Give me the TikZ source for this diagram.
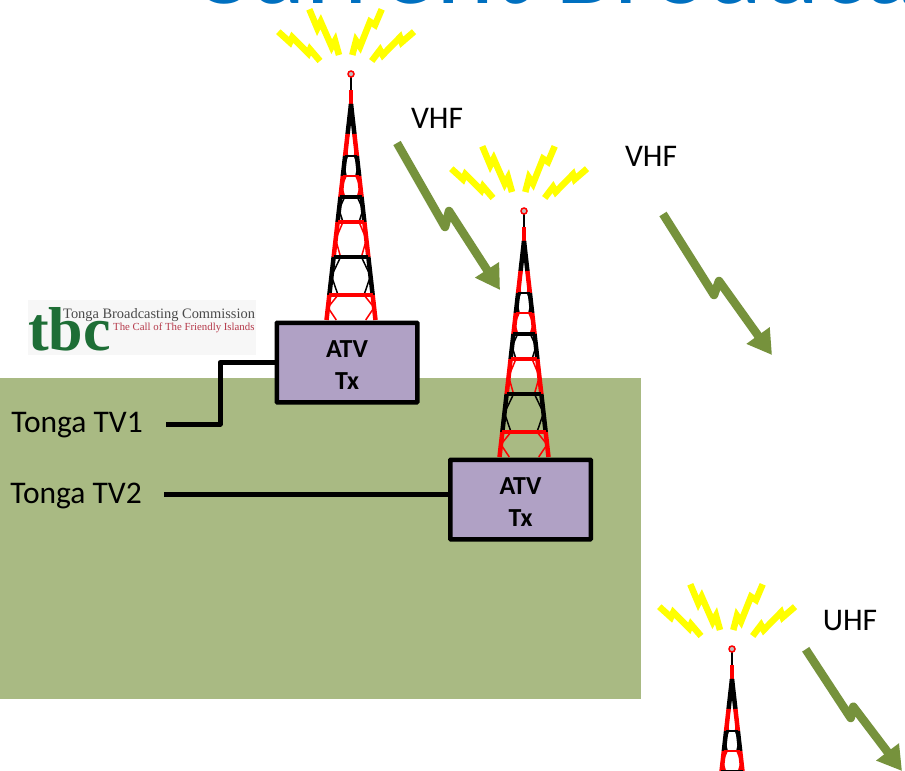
\documentclass[tikz,border=0pt]{standalone}
\usepackage{fontspec}
\setmainfont{Carlito}
\newfontfamily\logofont{Liberation Serif}
\usetikzlibrary{arrows.meta}
\definecolor{field}{HTML}{A9BA83}
\definecolor{bolt}{HTML}{76923C}
\definecolor{box}{HTML}{B0A1C5}
\definecolor{ray}{HTML}{FFFF00}
\definecolor{title}{HTML}{0070C0}
\definecolor{logo-green}{HTML}{1E6E36}
\definecolor{logo-red}{HTML}{B5394A}
\definecolor{logo-gray}{HTML}{4A4A4A}
\tikzset{
  label text/.style={font=\fontsize{31.5}{34}\selectfont, inner sep=0pt},
  tx box/.style={draw=black, line width=4.5pt, fill=box, rounded corners=0.5pt,
    minimum width=140.5pt, minimum height=79.5pt, align=center,
    font=\fontsize{26}{32}\selectfont\bfseries, inner sep=0pt},
  feed/.style={draw=black, line width=5pt, line join=round},
  radio bolt/.style={draw=bolt, line width=8.5pt, line join=round,
    -{Triangle[length=24pt,width=27pt]}},
  ray bolt/.style={draw=ray, line width=6.5pt},
  tower/.pic={
    % rays
    \draw[ray bolt] (-72.7,-42.3) -- (-61,-31.7) -- (-58.7,-36.7) -- (-42.7,-20.7) -- (-41,-24.7) -- (-31,-13);
    \draw[ray bolt] (-41.7,-64.7) -- (-33.7,-45.7) -- (-30.3,-52.3) -- (-19.3,-27.3) -- (-16,-33.3) -- (-12,-19);
    \draw[ray bolt] (30.7,-64.7) -- (24,-49) -- (19,-52.3) -- (9,-27.3) -- (5,-33.3) -- (1.3,-19);
    \draw[ray bolt] (63,-42.3) -- (50.7,-31.7) -- (49,-36.7) -- (31.7,-19) -- (29,-24) -- (20.7,-13);
    % mast top
    \draw[black, line width=1.5pt] (0,3) -- (0,16);
    \draw[red, line width=4.5pt] (0,16) -- (0,30);
    \draw[red, line width=1.5pt, fill=gray!50] (0,0) circle (3pt);
    % sections
    \foreach \ya/\yb/\hue in {30/60/black, 60/82/red, 82/102/black, 102/123/red,
        123/148/black, 148/183/red, 183/221/black, 221/246/red} {
      \pgfmathsetmacro{\wa}{(\ya-30)*0.1134}
      \pgfmathsetmacro{\wb}{(\yb-30)*0.1134}
      \pgfmathsetmacro{\wm}{(\wa+\wb)/2}
      \pgfmathsetmacro{\ym}{(\ya+\yb)/2}
      \draw[\hue, line width=1.5pt] (-0.6*\wa,\ya) -- (-\wm,\ym) -- (-0.6*\wb,\yb);
      \draw[\hue, line width=1.5pt] (0.6*\wa,\ya) -- (\wm,\ym) -- (0.6*\wb,\yb);
      \draw[\hue, line width=4.5pt] (-\wa,\ya) -- (-\wb,\yb);
      \draw[\hue, line width=4.5pt] (\wa,\ya) -- (\wb,\yb);
    }
    % rungs
    \foreach \yr/\hue/\lw in {82/black/2.5, 102/red/2, 123/black/3.5, 148/red/3.5,
        183/black/3.5, 221/red/3.5} {
      \pgfmathsetmacro{\wr}{(\yr-30)*0.1134}
      \draw[\hue, line width=\lw pt] (-\wr,\yr) -- (\wr,\yr);
    }
  },
}
\begin{document}
\begin{tikzpicture}[x=1pt, y=-1pt]
\clip (0,0) rectangle (905,771);
\fill[white] (0,0) rectangle (905,771);
\node[anchor=base west, inner sep=0pt, text=title, font=\fontsize{110}{120}\selectfont] (heading) at (190,4) {Current Broadcast};
\fill[field] (0,378) rectangle (641,699);

% logo
\fill[black!3] (28,300) rectangle (256,355);
\node[anchor=base west, inner sep=0pt, text=logo-green, font=\logofont\fontsize{62}{70}\selectfont\bfseries] (logo tbc) at (28,350) {tbc};
\node[anchor=base west, inner sep=0pt, text=logo-gray, font=\logofont\fontsize{14.4}{18}\selectfont] (logo name) at (63,318) {Tonga Broadcasting Commission};
\node[anchor=base west, inner sep=0pt, text=logo-red, font=\logofont\fontsize{10.8}{12}\selectfont] (logo motto) at (113,330) {The Call of The Friendly Islands};

% towers
\pic at (351,74) {tower};
\pic at (524,211) {tower};
\pic at (732,649) {tower};

% transmitters
\node[tx box] at (347,362.5) (atv1) {\strut ATV\\Tx};
\node[tx box] at (520.5,499.5) (atv2) {\strut ATV\\Tx};

% feeds
\node[label text, anchor=east] at (143,425) (tv1) {Tonga TV1};
\node[label text, anchor=east] at (142,496) (tv2) {Tonga TV2};
\coordinate (riser) at (220,362.5);
\coordinate (tv1 end) at (166,424);
\coordinate (tv2 end) at (164,494);
\draw[feed] (tv1 end) -| (riser) -- (atv1.west);
\draw[feed] (tv2 end) -- (tv2 end -| atv2.west);

% radio links
\node[label text] at (437,118) (vhf1) {VHF};
\node[label text] at (651,156) (vhf2) {VHF};
\node[label text] at (850,621) (uhf) {UHF};
\draw[radio bolt] (397,143) -- (445,227) -- (449,211) -- (500,290);
\draw[radio bolt] (663,214) -- (714,295) -- (719,281) -- (772,355);
\draw[radio bolt] (805.7,649.3) -- (850.7,718) -- (853.3,706.7) -- (902,771);
\end{tikzpicture}
\end{document}
